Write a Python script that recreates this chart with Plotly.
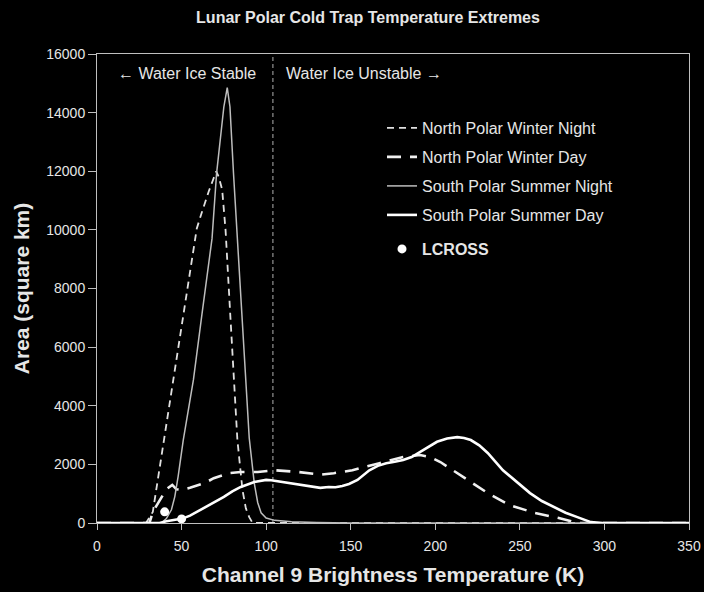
import plotly.graph_objects as go

# ---------------- data ----------------
NPWN_T = [0, 29, 33, 37, 40, 45, 52, 59, 62, 66, 70.5, 72, 74, 76, 78.5, 81, 83, 86, 88, 90, 92, 350]
NPWN_A = [0, 0, 380, 1850, 2900, 4800, 7400, 10050, 10600, 11300, 12000, 11800, 11370, 10000, 7400, 4800, 2830, 1130, 500, 200, 0, 0]

NPWD_T = [0, 31, 33, 37, 41, 44.5, 47, 50, 55, 64, 69, 78, 85, 95, 105, 119, 132, 140, 151, 167, 181, 191,
          197, 203, 209, 216, 231, 244, 259, 273, 284, 350]
NPWD_A = [0, 0, 380, 780, 1150, 1300, 1150, 1130, 1200, 1370, 1530, 1700, 1740, 1740, 1800, 1740, 1650, 1700,
          1800, 2040, 2250, 2320, 2250, 2080, 1850, 1570, 1020, 610, 340, 170, 0, 0]

SPSN_T = [0, 38, 41, 44, 46, 48, 51, 54, 57, 62, 68, 70.7, 75, 77, 78.6, 80.7, 83, 85.5, 88, 90, 93, 95, 97,
          100, 105, 115, 130, 150, 350]
SPSN_A = [0, 0, 150, 450, 900, 1600, 2830, 3900, 4880, 7100, 9700, 11930, 14200, 14850, 14200, 11930, 9700,
          7300, 4880, 2900, 1350, 700, 350, 170, 90, 40, 15, 0, 0]

SPSD_T = [0, 37, 41, 45, 50.5, 55, 61, 68, 75, 80, 85, 93, 100, 103, 110, 115, 122, 127, 132, 137, 141, 145,
          149, 154, 157, 161, 166, 171, 176, 181, 186, 191, 196, 201, 207, 213, 217, 221, 226, 231, 240, 248,
          256, 263, 270, 277, 284, 292, 299, 350]
SPSD_A = [0, 0, 60, 100, 150, 250, 440, 650, 890, 1080, 1230, 1400, 1470, 1460, 1400, 1370, 1300, 1250, 1200,
          1230, 1220, 1260, 1330, 1470, 1620, 1800, 1950, 2040, 2090, 2150, 2250, 2420, 2600, 2770, 2880,
          2930, 2900, 2830, 2650, 2390, 1800, 1400, 1020, 750, 550, 350, 200, 30, 0, 0]

LCROSS_T = [40, 50]
LCROSS_A = [380, 140]

ICE_LIMIT_K = 104

X_TICKS = [0, 50, 100, 150, 200, 250, 300, 350]
Y_TICKS = [0, 2000, 4000, 6000, 8000, 10000, 12000, 14000, 16000]

FONT = "Arial, Liberation Sans, sans-serif"
TXT = "#e6e6e6"
AX = "#bfbfbf"

fig = go.Figure()

fig.add_trace(go.Scatter(x=[ICE_LIMIT_K, ICE_LIMIT_K], y=[0, 16000], mode="lines",
                         line=dict(color="#b0b0b0", width=1, dash="4px,3px"),
                         showlegend=False, hoverinfo="skip"))

fig.add_trace(go.Scatter(x=NPWN_T, y=NPWN_A, mode="lines", name="North Polar Winter Night",
                         line=dict(color="#e0e0e0", width=1.8, dash="7px,5px"), legend="legend"))
fig.add_trace(go.Scatter(x=NPWD_T, y=NPWD_A, mode="lines", name="North Polar Winter Day",
                         line=dict(color="#f0f0f0", width=2.6, dash="14px,9px"), legend="legend2"))
fig.add_trace(go.Scatter(x=SPSN_T, y=SPSN_A, mode="lines", name="South Polar Summer Night",
                         line=dict(color="#bdbdbd", width=1.5), legend="legend3"))
fig.add_trace(go.Scatter(x=SPSD_T, y=SPSD_A, mode="lines", name="South Polar Summer Day",
                         line=dict(color="#ffffff", width=2.6), legend="legend4"))
fig.add_trace(go.Scatter(x=LCROSS_T, y=LCROSS_A, mode="markers", name="<b>LCROSS</b>",
                         marker=dict(color="#ffffff", size=9), legend="legend5"))

L, R, T, B = 97, 15, 54, 69
H = 592 - T - B
W = 704 - L - R


def leg(py):
    return dict(x=(382 - L) / W, xanchor="left", y=(592 - B - py) / H, yanchor="middle",
                bgcolor="rgba(0,0,0,0)", font=dict(family=FONT, size=16, color=TXT),
                borderwidth=0, itemwidth=30)


fig.update_layout(
    width=704, height=592,
    margin=dict(l=L, r=R, t=T, b=B, autoexpand=False),
    paper_bgcolor="black", plot_bgcolor="black",
    title=dict(text="<b>Lunar Polar Cold Trap Temperature Extremes</b>",
               font=dict(family=FONT, size=16, color=TXT),
               x=368 / 704, xanchor="center", xref="container",
               y=1 - 17 / 592, yanchor="middle", yref="container"),
    legend=leg(128), legend2=leg(157), legend3=leg(186), legend4=leg(215), legend5=leg(249),
    xaxis=dict(range=[0, 350], tickvals=X_TICKS, ticks="outside", ticklen=6, tickcolor=AX,
               showline=True, linecolor=AX, linewidth=1, mirror=True, showgrid=False, zeroline=False,
               automargin=False, ticklabelstandoff=4,
               tickfont=dict(family=FONT, size=14, color=TXT),
               title=dict(text="<b>Channel 9 Brightness Temperature (K)</b>",
                          font=dict(family=FONT, size=21, color=TXT), standoff=14)),
    yaxis=dict(range=[0, 16000], tickvals=Y_TICKS, tickformat="d", ticks="outside", ticklen=8, tickcolor=AX,
               showline=True, linecolor=AX, linewidth=1, mirror=True, showgrid=False, zeroline=False,
               automargin=False,
               tickfont=dict(family=FONT, size=14, color=TXT),
               title=dict(text="<b>Area (square km)</b>",
                          font=dict(family=FONT, size=21, color=TXT), standoff=10)),
    annotations=[
        dict(text="\u2190 Water Ice Stable", x=(187 - L) / W, xref="paper", xanchor="center",
             y=(592 - B - 73) / H, yref="paper", yanchor="middle", showarrow=False,
             font=dict(family=FONT, size=16, color=TXT)),
        dict(text="Water Ice Unstable \u2192", x=(284 - L) / W, xref="paper", xanchor="left",
             y=(592 - B - 73) / H, yref="paper", yanchor="middle", showarrow=False,
             font=dict(family=FONT, size=16, color=TXT)),
    ],
)

fig.write_html("out.html")
